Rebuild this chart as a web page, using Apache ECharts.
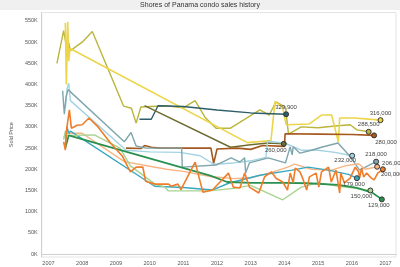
<!DOCTYPE html>
<html><head><meta charset="utf-8">
<script src="https://cdn.jsdelivr.net/npm/echarts@6/dist/echarts.min.js"></script>
<style>html,body{margin:0;padding:0;background:#fff}#c{width:400px;height:267px}</style>
</head><body><div id="c"></div>
<script>
// Data: [year, sold price in K]
const yearTicks = [2007,2008,2009,2010,2011,2012,2013,2014,2015,2016,2017];
const priceTicks = [0,50,100,150,200,250,300,350,400,450,500,550];

const olive = [[2007.25,450],[2007.45,527],[2007.52,495],[2007.58,505],[2007.65,480],[2008.0,500],[2008.3,525],[2009.23,349],[2009.46,344],[2009.6,309],[2009.74,347],[2010.5,350],[2011.0,345],[2011.35,362],[2011.65,322],[2011.97,297],[2012.4,297],[2013.27,340],[2013.55,328],[2013.75,359],[2014.03,347],[2014.12,283],[2014.5,300],[2015.0,298],[2015.5,302],[2015.95,305],[2016.15,293],[2016.5,288.5]];
const yellow = [[2007.5,545],[2007.53,400],[2007.57,548],[2007.6,455],[2007.64,485],[2012.9,263],[2013.6,268],[2013.72,360],[2013.95,345],[2014.05,305],[2014.74,307],[2015.1,328],[2015.4,328],[2015.6,264],[2015.64,321],[2016.07,321],[2016.85,316]];
const darkTeal = [[2009.7,318],[2010.05,318],[2010.25,350],[2011.0,348],[2012.0,340],[2013.0,333],[2014.05,329.9]];
const darkOlive = [[2009.85,350],[2012.4,252],[2013.0,258],[2013.5,262],[2013.98,260]];
const brown = [[2009.3,250],[2009.75,249],[2009.85,256],[2010.05,252],[2010.3,250],[2011.0,250],[2011.82,250],[2011.9,214],[2012.0,248],[2012.6,250],[2013.0,247],[2013.35,256],[2014.0,254],[2014.02,284],[2015.0,283],[2016.0,282],[2016.66,280]];
const grayTeal = [[2007.42,385],[2007.47,330],[2007.52,370],[2007.58,388],[2009.25,265],[2009.45,287],[2009.6,255],[2009.9,250],[2010.95,250],[2010.97,205],[2011.97,210],[2012.42,227],[2012.68,217],[2012.82,227],[2012.85,191],[2012.96,215],[2013.52,227],[2014.03,215],[2014.17,253],[2014.23,234],[2014.26,253],[2014.46,238],[2014.8,245],[2015.1,252],[2015.59,262],[2015.95,230],[2016.23,198],[2016.72,218]];
const lightBlue = [[2007.5,345],[2007.55,390],[2007.6,403],[2007.65,362],[2009.3,245],[2010.0,241],[2010.9,240],[2011.5,232],[2011.9,212],[2012.5,215],[2013.0,220],[2013.45,228],[2013.5,266],[2014.0,262],[2014.5,245],[2015.0,245],[2015.5,240],[2016.01,232]];
const cyan = [[2007.5,255],[2007.55,300],[2007.6,285],[2007.65,290],[2010.15,160],[2011.0,157],[2011.86,151],[2012.34,167],[2013.27,186],[2014.23,198],[2014.7,205],[2015.3,198],[2015.9,188],[2016.15,179]];
const orange = [[2007.45,265],[2007.5,245],[2007.53,290],[2007.57,293],[2007.62,340],[2007.68,297],[2007.85,304],[2008.0,305],[2008.2,321],[2008.47,300],[2008.84,262],[2009.2,230],[2009.43,194],[2009.6,205],[2009.8,205],[2009.88,172],[2010.16,165],[2010.56,165],[2010.64,160],[2010.84,165],[2010.93,152],[2011.35,217],[2011.58,146],[2011.86,151],[2011.92,156],[2012.34,191],[2012.48,158],[2012.68,156],[2012.82,191],[2012.96,158],[2013.24,144],[2013.41,182],[2013.61,194],[2013.75,179],[2013.95,170],[2014.09,151],[2014.17,191],[2014.26,168],[2014.32,203],[2014.46,194],[2014.54,179],[2014.66,151],[2014.74,182],[2014.94,191],[2015.02,158],[2015.1,194],[2015.31,205],[2015.39,170],[2015.53,198],[2015.64,144],[2015.67,191],[2015.78,168],[2015.95,179],[2016.1,205],[2016.2,194],[2016.23,179],[2016.29,203],[2016.35,182],[2016.44,191],[2016.58,179],[2016.66,175],[2016.77,191],[2016.92,200]];
const peach = [[2007.45,275],[2007.55,285],[2008.0,285],[2009.25,218],[2009.8,210],[2010.5,200],[2011.0,195],[2011.8,183],[2012.5,178],[2013.0,180],[2013.6,192],[2014.1,205],[2014.3,212],[2014.8,200],[2015.4,198],[2015.8,208],[2016.2,213],[2016.4,200],[2016.75,206]];
const lightGreen = [[2007.45,270],[2007.5,290],[2007.55,280],[2008.36,281],[2009.12,250],[2009.43,208],[2010.16,165],[2010.45,158],[2010.56,149],[2011.77,149],[2012.5,155],[2013.0,162],[2013.95,128],[2014.5,158],[2015.0,168],[2015.6,160],[2016.0,156],[2016.55,150]];
const green = [[2007.5,250],[2007.55,265],[2007.6,280],[2011.8,185],[2012.3,170],[2013.0,168],[2014.0,168],[2014.7,167],[2015.6,163],[2016.15,156],[2016.6,145],[2016.89,129]];

const defs = [
  {name:'olive', data:olive, color:'#bab53c', w:1.4, pos:'top', off:[0,1]},
  {name:'yellow', data:yellow, color:'#ecd548', w:1.6, pos:'top', off:[0,1]},
  {name:'darkTeal', data:darkTeal, color:'#2d5e6c', w:1.4, pos:'top', off:[0,1]},
  {name:'darkOlive', data:darkOlive, color:'#6e6b30', w:1.4, pos:'bottom', off:[-8,-2]},
  {name:'brown', data:brown, color:'#a4581f', w:1.6, pos:'bottom', off:[12,-1]},
  {name:'lightBlue', data:lightBlue, color:'#a3d3e3', w:1.4, pos:'bottom', off:[-7,-3]},
  {name:'grayTeal', data:grayTeal, color:'#7fa6ac', w:1.4, pos:'top', off:[0,1]},
  {name:'peach', data:peach, color:'#f7b584', w:1.4, pos:'right', off:[0,-3]},
  {name:'cyan', data:cyan, color:'#38a8c0', w:1.4, pos:'bottom', off:[-3,-2]},
  {name:'lightGreen', data:lightGreen, color:'#a8d38f', w:1.4, pos:'bottom', off:[-9,-2]},
  {name:'green', data:green, color:'#2a9150', w:1.8, pos:'bottom', off:[-3,-2]},
  {name:'orange', data:orange, color:'#ef7d2a', w:1.6, pos:'bottom', off:[9,-3]}
];

function fmt(v){ return Math.round(v*1000).toString().replace(/\B(?=(\d{3})+(?!\d))/g, ','); }

const series = defs.map(d => {
  const pts = d.data.map((p,i) => {
    if (i < d.data.length-1) return p;
    return {
      value: p, symbol:'circle', symbolSize:5,
      itemStyle:{color:d.color, borderColor:'#333', borderWidth:1},
      label:{show:true, position:d.pos, offset:d.off, distance:2, formatter: fmt(p[1]),
        fontSize:6, color:'#444', fontFamily:'Liberation Sans'}
    };
  });
  return {
    type:'line', name:d.name, data:pts, symbol:'none', showSymbol:true,
    lineStyle:{color:d.color, width:d.w}, itemStyle:{color:d.color},
    animation:false, silent:true, z: 2
  };
});

const chart = echarts.init(document.getElementById('c'), null, {renderer:'canvas'});
chart.setOption({
  animation:false,
  textStyle:{fontFamily:'Liberation Sans'},
  graphic:[
    {type:'rect', shape:{x:0,y:0,width:400,height:10}, style:{fill:'#f0f0f0'}, z:-1},
    {type:'text', x:200, y:5, style:{text:'Shores of Panama condo sales history', fill:'#333', fontSize:7,
      fontFamily:'Liberation Sans', align:'center', verticalAlign:'middle'}}
  ],
  grid:{left:24, right:4, top:12.5, bottom:10, show:true, borderColor:'#e4e4e4', borderWidth:1},
  xAxis:{type:'value', min:2006.8, max:2017.31,
    axisLine:{show:true, lineStyle:{color:'#cfcfcf'}}, axisTick:{show:false},
    splitLine:{show:false},
    axisLabel:{customValues:yearTicks, formatter:v=>String(Math.round(v)), fontSize:5.5, color:'#555', margin:3}},
  yAxis:{type:'value', min:-7, max:570, name:'Sold Price', nameLocation:'middle', nameGap:20,
    nameTextStyle:{fontSize:5.5, color:'#555'},
    axisLine:{show:true, lineStyle:{color:'#cfcfcf'}}, axisTick:{show:false},
    splitLine:{show:false},
    axisLabel:{customValues:priceTicks, formatter:v=>v+'K', fontSize:5.5, color:'#555', margin:4}},
  series: series
});
</script></body></html>
